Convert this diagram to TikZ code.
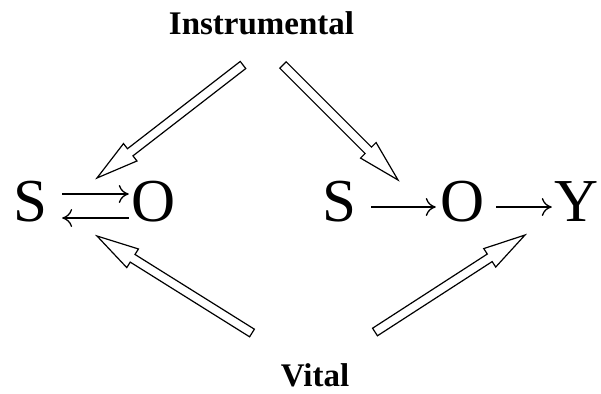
\documentclass[tikz,border=0pt]{standalone}
\usepackage{fontspec}
\setmainfont{Liberation Serif}
\usetikzlibrary{calc,arrows.meta}

% hollow block arrow from #1 to #2
\newcommand{\fatarrow}[2]{%
  \draw[fat] let \p1=($(#2)-(#1)$), \n1={atan2(\y1,\x1)}, \n2={veclen(\x1,\y1)} in
    [shift={(#1)}, rotate=\n1]
    (0,-4.5) -- ({\n2-42},-4.5) -- ({\n2-42},-11) -- (\n2,0)
    -- ({\n2-42},11) -- ({\n2-42},4.5) -- (0,4.5) -- cycle;}

\begin{document}
\begin{tikzpicture}[x=1pt, y=-1pt, inner sep=0pt,
    letter/.style={font=\fontsize{61}{70}\selectfont, anchor=base},
    heading/.style={font=\fontsize{33}{40}\selectfont\bfseries, anchor=base},
    fat/.style={draw=black, fill=white, line width=1.2pt, line join=miter},
    link/.style={line width=1.3pt, -{To[length=10pt,width=18pt]}}]
    \useasboundingbox (0,0) rectangle (601,393);
    \node[heading] (instr) at (261.5,35) {Instrumental};
    \node[heading] (vital) at (315,386) {Vital};
    % left: S and O both ways
    \node[letter] (lS) at (30,221) {S};
    \node[letter] (lO) at (154,221) {O};
    \draw[link] ([shift={(15pt,27pt)}]lS.base east) -- ([shift={(-3pt,27pt)}]lO.base west);
    \draw[link] ([shift={(-3pt,3pt)}]lO.base west) -- ([shift={(15pt,3pt)}]lS.base east);
    % right: S -> O -> Y
    \node[letter] (rS) at (339,221) {S};
    \node[letter] (rO) at (463,221) {O};
    \node[letter] (rY) at (577,221) {Y};
    \draw[link] ([shift={(15pt,14pt)}]rS.base east) -- ([shift={(-5pt,14pt)}]rO.base west);
    \draw[link] ([shift={(11pt,14pt)}]rO.base east) -- ([shift={(-3pt,14pt)}]rY.base west);
    % hollow arrows
    \coordinate (iL) at (243,65);   \coordinate (iLtip) at (97,178);
    \coordinate (iR) at (283,65);   \coordinate (iRtip) at (398,180);
    \coordinate (vL) at (252,333);  \coordinate (vLtip) at (97,236);
    \coordinate (vR) at (375,332);  \coordinate (vRtip) at (525,235);
    \fatarrow{iL}{iLtip}
    \fatarrow{iR}{iRtip}
    \fatarrow{vL}{vLtip}
    \fatarrow{vR}{vRtip}
\end{tikzpicture}
\end{document}
